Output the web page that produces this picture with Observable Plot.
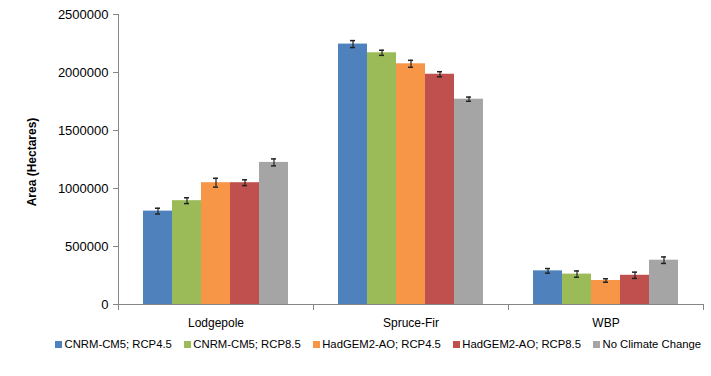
<!DOCTYPE html>
<html><head><meta charset="utf-8">
<script src="https://cdn.jsdelivr.net/npm/d3@7"></script>
<script src="https://cdn.jsdelivr.net/npm/@observablehq/plot@0.6"></script>
<style>
body{margin:0;background:#fff;font-family:"Liberation Sans",Arial,sans-serif;}
#chart{width:711px;}
.lg-swatches{min-height:16px !important;height:16px;margin-top:0 !important;margin-bottom:0 !important;flex-wrap:nowrap !important;overflow:visible;}
.lg-swatch{margin-right:12px !important;white-space:nowrap;flex-shrink:0;}
.lg-swatch > svg{margin-right:2.5px !important;}
</style></head><body><div id="chart"></div>
<script>
const categories = ["Lodgepole", "Spruce-Fir", "WBP"];
const series = ["CNRM-CM5; RCP4.5", "CNRM-CM5; RCP8.5", "HadGEM2-AO; RCP4.5", "HadGEM2-AO; RCP8.5", "No Climate Change"];
const colors = ["#4F81BD", "#9BBB59", "#F79646", "#C0504D", "#A5A5A5"];
const yTicks = [0, 500000, 1000000, 1500000, 2000000, 2500000];

// values per category, in series order
const lodgepole = [805000, 895000, 1050000, 1050000, 1225000];
const spruceFir = [2245000, 2170000, 2075000, 1985000, 1770000];
const wbp = [290000, 262000, 207000, 252000, 382000];
// error bar half-widths
const lodgepoleErr = [25000, 25000, 38000, 25000, 30000];
const spruceFirErr = [30000, 22000, 30000, 22000, 18000];
const wbpErr = [20000, 27000, 15000, 27000, 28000];

const values = [lodgepole, spruceFir, wbp];
const errors = [lodgepoleErr, spruceFirErr, wbpErr];
const table = [];
categories.forEach((c, ci) => series.forEach((s, si) => table.push({category: c, series: s, value: values[ci][si], err: errors[ci][si]})));

const font = '"Liberation Sans", Arial, sans-serif';
const axisColor = "#868686";
const errColor = "#222";

const plot = Plot.plot({
  width: 711, height: 336,
  marginTop: 14, marginLeft: 118, marginRight: 8, marginBottom: 27,
  style: {fontFamily: font, fontSize: "12px", color: "#000", background: "#fff"},
  fx: {domain: categories, padding: 0, axis: null},
  x: {domain: series, paddingInner: 0, paddingOuter: 0.77, axis: null},
  y: {domain: [0, 2500000], insetBottom: 5, axis: null},
  color: {domain: series, range: colors},
  marks: [
    Plot.axisY({ticks: yTicks, tickSize: 5, tickPadding: 5, tickFormat: d => String(d), stroke: axisColor, fill: "#000", fontSize: 13, label: null}),
    Plot.axisY({ticks: [], label: "Area (Hectares)", labelAnchor: "center", labelArrow: "none", labelOffset: 91, fontWeight: "bold", fontSize: 12, fill: "#000"}),
    Plot.axisFx({anchor: "bottom", tickSize: 0, tickPadding: 9, label: null, fontSize: 12, fill: "#000"}),
    Plot.barY(table, {fx: "category", x: "series", y: "value", fill: "series"}),
    Plot.ruleX(table, {fx: "category", x: "series", y1: d => d.value - d.err, y2: d => d.value + d.err, stroke: errColor, strokeWidth: 1.2}),
    Plot.tickY(table, {fx: "category", x: "series", y: d => d.value - d.err, insetLeft: 12, insetRight: 12, stroke: errColor, strokeWidth: 1.5}),
    Plot.tickY(table, {fx: "category", x: "series", y: d => d.value + d.err, insetLeft: 12, insetRight: 12, stroke: errColor, strokeWidth: 1.5}),
    Plot.ruleY([0], {stroke: axisColor}),
    Plot.frame({anchor: "left", insetTop: 290, stroke: axisColor}),
    Plot.frame({anchor: "right", insetTop: 290, stroke: axisColor}),
    Plot.frame({anchor: "left", insetBottom: 4, fx: "Lodgepole", stroke: axisColor})
  ]
});
document.getElementById("chart").appendChild(plot);

const legend = Plot.legend({
  color: {domain: series, range: colors},
  swatchSize: 7, marginLeft: 55, className: "lg",
  style: {fontSize: "11.3px", fontFamily: font, color: "#000"}
});
document.getElementById("chart").appendChild(legend);
</script>
</body></html>
